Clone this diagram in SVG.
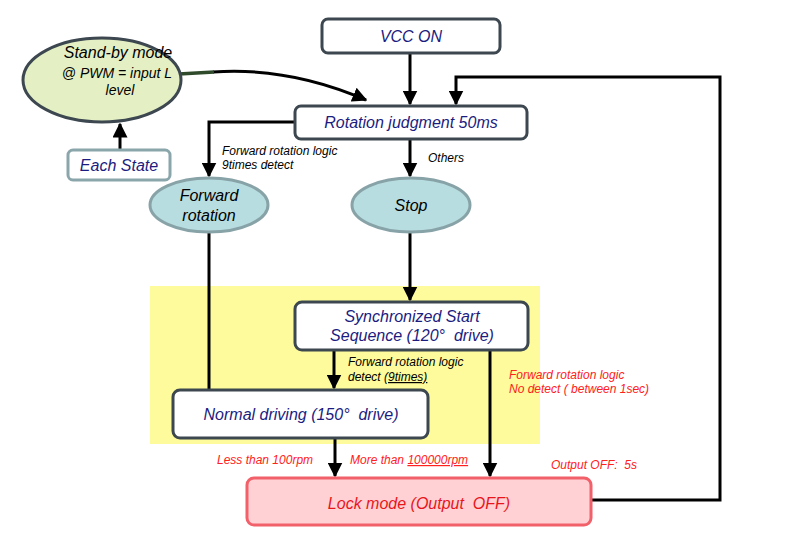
<svg xmlns="http://www.w3.org/2000/svg" width="791" height="546" viewBox="0 0 791 546">
  <style>
    text { font-family: "Liberation Sans", Arial, sans-serif; font-style: italic; white-space: pre; }
    .box { fill: #ffffff; stroke: #3d4750; stroke-width: 3; }
    .lbl { fill: #1c1c80; font-size: 16px; text-anchor: middle; }
    .dark { fill: #000000; }
    .oval { fill: #b7dde0; stroke: #88a3a8; stroke-width: 3; }
    .note { fill: #000000; font-size: 12px; }
    .warn { fill: #ff2020; font-size: 12px; }
    .wire { fill: none; stroke: #000000; stroke-width: 3; }
  </style>
  <defs>
    <marker id="arrow" viewBox="0 0 10 10" refX="9" refY="5" markerWidth="5" markerHeight="5" orient="auto" markerUnits="strokeWidth">
      <path d="M0,0 L10,5 L0,10 z" fill="#000000"/>
    </marker>
  </defs>

  <rect x="0" y="0" width="791" height="546" fill="#ffffff"/>

  <!-- highlighted drive area -->
  <rect x="150" y="286" width="390" height="158" fill="#fdfb9b"/>

  <g id="connectors">
    <path class="wire" d="M410,53 V104" marker-end="url(#arrow)"/>
    <path class="wire" d="M213,72 C270,68 320,80 366,100" marker-end="url(#arrow)"/>
    <path d="M179,74 L214,72" fill="none" stroke="#2e4a2a" stroke-width="3.5"/>
    <path class="wire" d="M120,150 V124" marker-end="url(#arrow)"/>
    <path class="wire" d="M591,500 H720 V77 H456 V104" marker-end="url(#arrow)"/>
    <path class="wire" d="M295,122 H209 V176" marker-end="url(#arrow)"/>
    <path class="wire" d="M410,139 V176" marker-end="url(#arrow)"/>
    <path class="wire" d="M209,232 V390"/>
    <path class="wire" d="M410,232 V300" marker-end="url(#arrow)"/>
    <path class="wire" d="M334,350 V388" marker-end="url(#arrow)"/>
    <path class="wire" d="M490,350 V476" marker-end="url(#arrow)"/>
    <path class="wire" d="M335,438 V476" marker-end="url(#arrow)"/>
  </g>

  <g id="standby">
    <ellipse cx="102" cy="80" rx="79" ry="42" fill="#e4f0c4" stroke="#3d4750" stroke-width="3"/>
    <text class="lbl dark" x="118" y="58">Stand-by mode</text>
    <text class="lbl dark" x="117" y="78" style="font-size:14px">@ PWM = input L</text>
    <text class="lbl dark" x="120" y="95" style="font-size:14px">level</text>
  </g>

  <g id="vcc-on">
    <rect class="box" x="322" y="19" width="178" height="34" rx="6"/>
    <text class="lbl" x="411" y="42">VCC ON</text>
  </g>

  <g id="rotation-judgment">
    <rect class="box" x="295" y="106" width="232" height="33" rx="6"/>
    <text class="lbl" x="411" y="128">Rotation judgment 50ms</text>
  </g>

  <g id="each-state">
    <rect x="68" y="150" width="102" height="30" rx="5" fill="#ffffff" stroke="#8aa6ab" stroke-width="3"/>
    <text class="lbl" x="119" y="171">Each State</text>
  </g>

  <g id="forward-rotation">
    <ellipse class="oval" cx="209" cy="205" rx="59" ry="27"/>
    <text class="lbl dark" x="209" y="201">Forward</text>
    <text class="lbl dark" x="209" y="221">rotation</text>
  </g>

  <g id="stop">
    <ellipse class="oval" cx="411" cy="205" rx="59" ry="27"/>
    <text class="lbl dark" x="411" y="211">Stop</text>
  </g>

  <g id="sync-start">
    <rect class="box" x="295" y="302" width="233" height="48" rx="7"/>
    <text class="lbl" x="412" y="322">Synchronized Start</text>
    <text class="lbl" x="412" y="341">Sequence (120°  drive)</text>
  </g>

  <g id="normal-driving">
    <rect class="box" x="173" y="390" width="255" height="48" rx="7"/>
    <text class="lbl" x="301" y="420">Normal driving (150°  drive)</text>
  </g>

  <g id="lock-mode">
    <rect x="247" y="478" width="344" height="47" rx="7" fill="#ffd1d5" stroke="#f2606a" stroke-width="3"/>
    <text class="lbl" x="419" y="509" style="fill:#e8161c">Lock mode (Output  OFF)</text>
  </g>

  <g id="labels">
    <text class="note" x="222" y="155">Forward rotation logic</text>
    <text class="note" x="222" y="169">9times detect</text>
    <text class="note" x="428" y="162">Others</text>
    <text class="note" x="348" y="366">Forward rotation logic</text>
    <text class="note" x="348" y="381">detect <tspan text-decoration="underline">(9times)</tspan></text>
    <text class="warn" x="509" y="379">Forward rotation logic</text>
    <text class="warn" x="509" y="393">No detect ( between 1sec)</text>
    <text class="warn" x="217" y="464">Less than 100rpm</text>
    <text class="warn" x="350" y="464">More than <tspan text-decoration="underline">100000rpm</tspan></text>
    <text class="warn" x="551" y="469">Output OFF:  5s</text>
  </g>
</svg>
